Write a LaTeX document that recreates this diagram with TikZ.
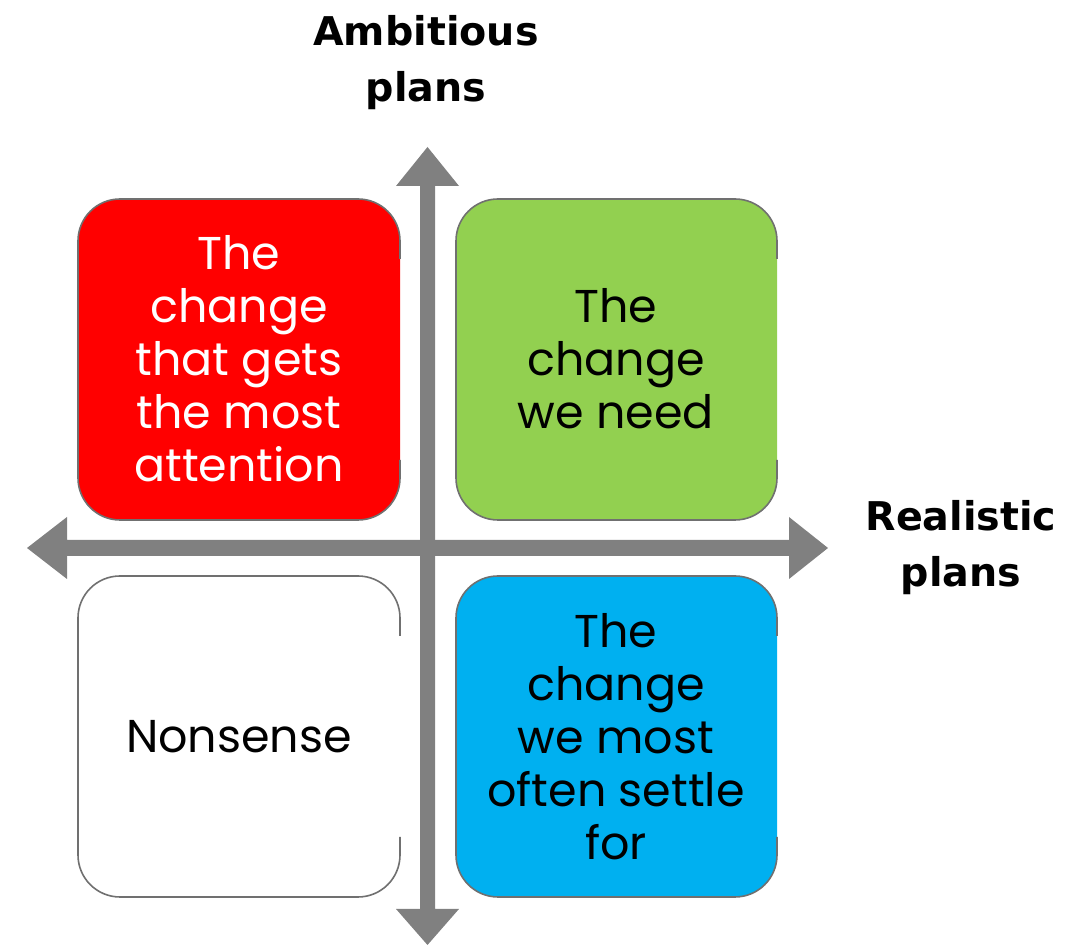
\documentclass[tikz,border=0pt]{standalone}
\usepackage{fontspec}
\setmainfont{Poppins}
\newfontfamily\axisfont{DejaVu Sans}
\definecolor{arrowgray}{HTML}{808080}
\definecolor{edgegray}{HTML}{707070}
\definecolor{qred}{HTML}{FF0000}
\definecolor{qgreen}{HTML}{92D050}
\definecolor{qblue}{HTML}{00B0F0}
\tikzset{
  boxtext/.style={align=center, font=\fontsize{23}{26.5}\selectfont, inner sep=0pt},
  axislabel/.style={align=center, font=\axisfont\bfseries\fontsize{19.8}{28}\selectfont, inner sep=0pt},
  boxedge/.style={draw=edgegray, line width=0.8pt, rounded corners=21pt},
  arrowfill/.style={fill=arrowgray}
}
\newcommand{\quadbox}[5]{%
  \fill[#5, rounded corners=21pt] (#1,#2) rectangle (#3,#4);
  \draw[boxedge] (#3,#2+60) -- (#3,#2) -- (#1,#2) -- (#1,#4) -- (#3,#4) -- (#3,#4-60);
}
\begin{document}
\begin{tikzpicture}[x=0.5pt,y=-0.5pt]
\useasboundingbox (0,0) rectangle (1084,945);
% boxes
\quadbox{78}{199}{400}{520}{qred}
\quadbox{456}{199}{777}{520}{qgreen}
\quadbox{78}{576}{400}{897}{white}
\quadbox{456}{576}{777}{897}{qblue}
% vertical arrow
\fill[arrowfill] (420,186) -- (396,186) -- (427.5,147) -- (459,186) -- (435,186)
  -- (435,909) -- (459,909) -- (427.5,945) -- (396,909) -- (420,909) -- cycle;
% horizontal arrow
\fill[arrowfill] (67,540) -- (67,517) -- (27,548) -- (67,579) -- (67,556)
  -- (789,556) -- (789,579) -- (828,548) -- (789,517) -- (789,540) -- cycle;
% texts
\node[boxtext, text=white] (red) at (239,359) {The\\change\\that gets\\the most\\attention};
\node[boxtext] (green) at (616,359) {The\\change\\we need};
\node[boxtext] (white) at (239,737) {Nonsense};
\node[boxtext] (blue) at (616,737) {The\\change\\we most\\often settle\\for};
\node[axislabel] (amb) at (426,63) {Ambitious\\plans};
\node[axislabel] (real) at (961,548) {Realistic\\plans};
\end{tikzpicture}
\end{document}
